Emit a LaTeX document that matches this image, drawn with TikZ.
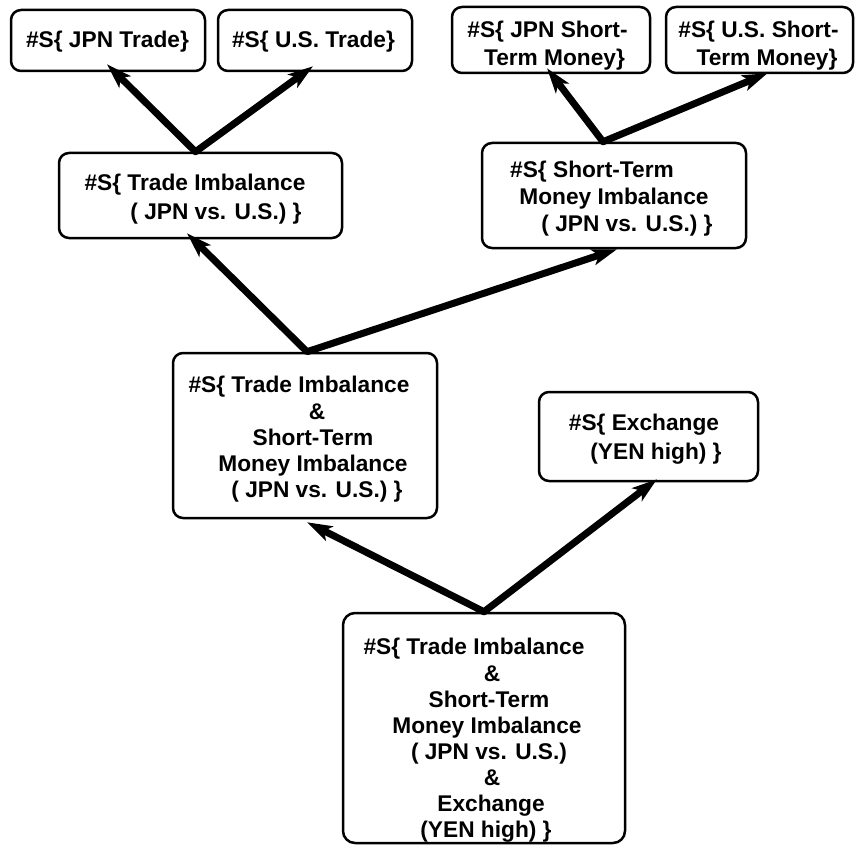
\documentclass[tikz,border=0pt]{standalone}
\usepackage{fontspec}
\setmainfont{Liberation Sans}
\usetikzlibrary{arrows.meta,calc}

% shift one centred line right (\shr) or left (\shl) by #1
\newcommand\shr[2]{\null\hspace*{#1}\hspace*{#1}#2}
\newcommand\shl[2]{#2\hspace*{#1}\hspace*{#1}\null}

\begin{document}
\begin{tikzpicture}[x=1pt,y=-1pt,
  box/.style={draw, line width=2.5pt, rounded corners=10pt, inner sep=0pt},
  txt/.style={align=center, inner sep=0pt, font=\fontsize{22.7pt}{#1}\selectfont\bfseries},
  txt/.default=26.3pt,
  headtip/.tip={Stealth[length=25pt,width=16pt,inset=6pt]},
  link/.style={line width=7pt, line join=round, {headtip}-{headtip}}]

\useasboundingbox (0,0) rectangle (856,853);

% boxes
\node[box, minimum width=194pt, minimum height=61pt]  (jpntrade) at (108,40.5) {};
\node[box, minimum width=194pt, minimum height=61pt]  (ustrade)  at (315,40.5) {};
\node[box, minimum width=198pt, minimum height=66pt]  (jpnstm)   at (551,40) {};
\node[box, minimum width=187pt, minimum height=66pt]  (usstm)    at (759.5,40) {};
\node[box, minimum width=283pt, minimum height=85pt]  (tradeimb) at (200.5,195.5) {};
\node[box, minimum width=264pt, minimum height=105pt] (stmimb)   at (614,195.5) {};
\node[box, minimum width=264pt, minimum height=165pt] (combo)    at (305,435.5) {};
\node[box, minimum width=219pt, minimum height=89pt]  (exchange) at (648.5,436.5) {};
\node[box, minimum width=282pt, minimum height=230pt, rounded corners=12pt] (total) at (484,728) {};

% texts
\node[txt] (jpntrade-t) at (107.5,42) {\#S\{ JPN Trade\}};
\node[txt] (ustrade-t)  at (313.5,42) {\#S\{ U.S. Trade\}};
\node[txt=28pt] (jpnstm-t) at (551,46)
  {\shl{3.5pt}{\#S\{ JPN Short-}\\ \shr{3.5pt}{Term Money\}}};
\node[txt=28pt] (usstm-t) at (762.75,46)
  {\shl{4.25pt}{\#S\{ U.S. Short-}\\ \shr{4.25pt}{Term Money\}}};
\node[txt=29pt] (tradeimb-t) at (205.5,199.5)
  {\shl{10.5pt}{\#S\{ Trade Imbalance}\\ \shr{10.5pt}{( JPN vs. U.S.) \}}};
\node[txt=27pt] (stmimb-t) at (609,199)
  {\shl{17pt}{\#S\{ Short-Term}\\ \shr{5pt}{Money Imbalance}\\ \shr{18pt}{( JPN vs. U.S.) \}}};
\node[txt=26.25pt] (combo-t) at (305,439.5)
  {\shl{6pt}{\#S\{ Trade Imbalance}\\ \shr{12pt}{\&}\\ \shr{8pt}{Short-Term}\\
   \shr{8pt}{Money Imbalance}\\ \shr{12pt}{( JPN vs. U.S.) \}}};
\node[txt=29pt] (exchange-t) at (650,439.5)
  {\shl{6pt}{\#S\{ Exchange}\\ \shr{6pt}{(YEN high) \}}};
\node[txt=26.1pt] (total-t) at (484,740.5)
  {\shl{10pt}{\#S\{ Trade Imbalance}\\ \shr{8pt}{\&}\\ \shr{5pt}{Short-Term}\\
   \shr{3pt}{Money Imbalance}\\ \shr{5pt}{( JPN vs. U.S.)}\\ \shr{8pt}{\&}\\
   \shr{7pt}{Exchange}\\ \shr{2pt}{(YEN high) \}}};

% branching connectors
\draw[link] ($(jpntrade.south)+(-1,-8)$) -- ($(tradeimb.north)+(-5,0)$) -- ($(ustrade.south)+(-2,-6)$);
\draw[link] ($(jpnstm.south)+(-4,-6)$) -- ($(stmimb.north)+(-11,0)$) -- ($(usstm.south)+(8,-1)$);
\draw[link] ($(tradeimb.south)+(-13.5,-6)$) -- ($(combo.north)+(2,0)$) -- ($(stmimb.south)+(3,0)$);
\draw[link] ($(combo.south)+(2,3)$) -- ($(total.north)+(0,0)$) -- ($(exchange.south)+(8.5,-3)$);
\end{tikzpicture}
\end{document}
